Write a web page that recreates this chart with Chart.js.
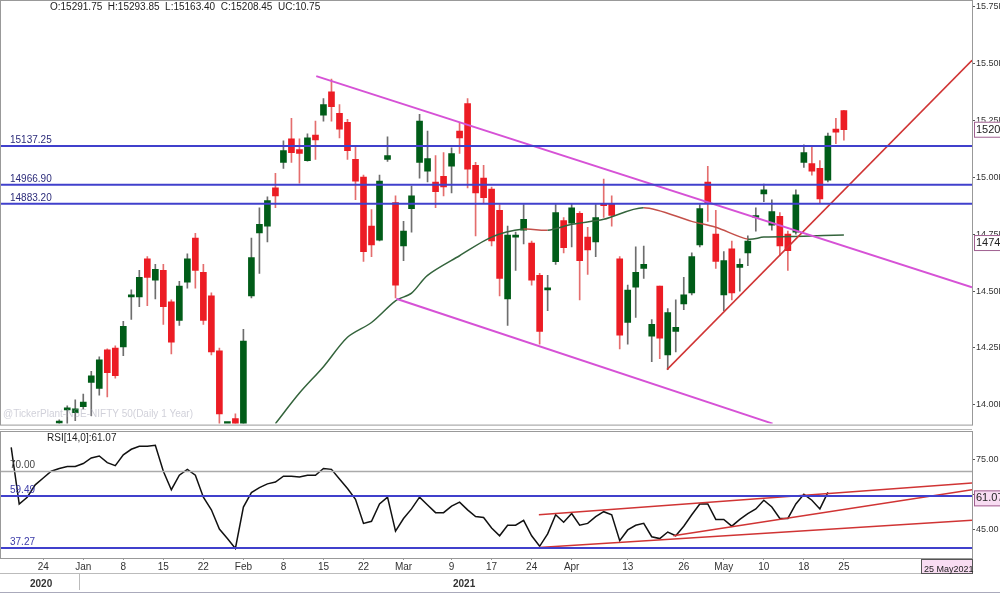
<!DOCTYPE html>
<html>
<head>
<meta charset="utf-8">
<script src="https://cdn.jsdelivr.net/npm/chart.js@4.4.1/dist/chart.umd.min.js"></script>
<style>
  body { margin: 0; background: #fff; overflow: hidden; }
  #wrap { position: relative; width: 1000px; height: 600px; }
  canvas { position: absolute; left: 0; }
  #main { top: 0; }
  #rsi { top: 430px; }
</style>
</head>
<body>
<div id="wrap">
  <canvas id="main" width="1000" height="430"></canvas>
  <canvas id="rsi" width="1000" height="170"></canvas>
</div>
<script>
// ---- data (x = trading-day index, first candle at FIRST_INDEX) ----
const FIRST_INDEX = 7;
const opens = [13920,13978,13966,13992,14099,14073,14242,14250,14255,14474,14474,14642,14548,14591,14453,14371,14539,14733,14582,14479,14237,13810,13940,13760,14479,14755,14785,14953,15065,15168,15121,15073,15185,15272,15375,15280,15241,15078,15000,14785,14724,15078,14888,14698,14862,15065,15026,14979,15004,15048,15203,15323,15052,14996,14948,14854,14466,14737,14767,14711,14569,14505,14629,14810,14798,14841,14737,14716,14884,14884,14642,14362,14517,14599,14302,14522,14220,14323,14444,14492,14703,14979,14750,14483,14685,14604,14668,14823,14927,14789,14828,14750,14759,15065,15060,15039,14987,15211,15292];
const highs = [13935,13996,14022,14048,14147,14211,14246,14259,14367,14505,14591,14651,14617,14617,14461,14543,14664,14754,14617,14492,14250,13898,13961,14332,14733,14866,14914,15017,15160,15259,15168,15190,15246,15345,15431,15319,15254,15138,15009,14858,15009,15177,14918,14806,14961,15276,15203,15095,15108,15129,15237,15345,15065,15052,14957,14880,14785,14759,14880,14720,14578,14569,14880,14823,14884,14849,14780,14880,14992,14918,14651,14526,14694,14698,14375,14522,14423,14461,14560,14668,14880,15048,14854,14673,14720,14642,14742,14866,14970,14901,14845,14763,14944,15142,15138,15073,15194,15259,15294];
const lows = [13910,13918,13931,13983,13953,14043,14035,14117,14216,14375,14431,14436,14466,14354,14224,14349,14513,14513,14354,14220,13880,13713,13600,13720,14470,14578,14716,14866,15039,15065,14974,15070,15078,15246,15246,15173,15078,14901,14630,14651,14720,15069,14470,14634,14759,14996,14979,14866,14918,14931,15104,14953,14742,14888,14698,14479,14349,14591,14707,14526,14267,14414,14617,14668,14694,14461,14573,14651,14823,14785,14246,14267,14384,14556,14190,14203,14155,14233,14418,14483,14694,14806,14599,14414,14461,14500,14612,14763,14892,14767,14655,14591,14750,15043,15009,14888,14979,15147,15163];
const closes = [13925,13982,13983,14013,14128,14198,14142,14128,14345,14483,14560,14560,14595,14431,14276,14522,14642,14591,14371,14233,13961,13817,13700,14280,14647,14793,14897,14918,15117,15108,15104,15173,15164,15319,15310,15211,15117,14983,14673,14703,14983,15095,14526,14763,14918,15246,15082,14936,14957,15104,15173,15035,14931,14910,14720,14556,14746,14741,14815,14548,14323,14509,14845,14690,14866,14634,14681,14823,14875,14832,14306,14504,14582,14617,14354,14293,14405,14341,14483,14651,14862,14888,14630,14634,14492,14617,14720,14825,14944,14849,14698,14677,14923,15108,15026,14905,15181,15198,15208.45];
const ohlcText = "O:15291.75  H:15293.85  L:15163.40  C:15208.45  UC:10.75";

// moving average, read at a few points
const maIdx = [34,37,40,43,46,49,51,53,57,61,65,68,71,75,80,86,89,93,95,100,105];
const maVal = [13918,14052,14168,14297,14362,14457,14491,14569,14655,14737,14772,14767,14793,14815,14866,14806,14780,14728,14737,14741,14746];

// RSI(14) from index 1
const RSI_FIRST = 1;
const rsiVals = [80.3,56.1,59.0,64.3,67.2,70.1,71.3,72.1,72.1,73.4,75.8,76.6,73.8,72.5,77.1,79.5,80.8,80.8,81.2,70.1,62.2,68.4,70.9,68.4,59.0,53.6,45.4,41.3,37.1,54.8,61.0,63.1,64.7,65.5,68.0,68.0,67.6,68.4,68.4,71.3,70.9,66.8,62.7,58.1,47.8,48.7,56.1,59.0,44.5,49.9,54.0,59.0,55.7,52.4,52.4,55.2,56.9,53.6,50.7,50.3,45.8,42.5,47.0,47.0,49.1,42.5,38.0,43.3,51.5,48.3,52.0,47.0,47.8,50.7,52.8,51.5,40.4,45.0,47.0,47.8,42.1,41.3,44.1,42.5,46.6,51.5,56.1,56.1,49.5,49.5,46.6,49.5,52.0,54.0,57.7,54.8,49.9,49.9,56.1,60.2,57.7,54.0,61.07];

const levels = [15137.25, 14966.90, 14883.20];
const upperChannel = [[39.1, 15444], [121, 14517]];
const lowerChannel = [[49.1, 14466], [96.1, 13918]];
const supportLine = [[82.9, 14155], [121, 15513]];
const priceTicks = [14000, 14250, 14500, 14750, 15000, 15250, 15500, 15750];

const rsiLevels = [70, 59.49, 37.27];
const rsiLines = [
    [[66.9, 51.5], [121, 65.1]],
    [[66.9, 37.5], [121, 49.1]],
    [[83.7, 42.5], [121, 62.2]]
];
const rsiTicks = [45, 60, 75];

const dateTickIdx = [5,10,15,20,25,30,35,40,45,50,56,61,66,71,78,85,90,95,100,105];
const dateTickLbl = ["24","Jan","8","15","22","Feb","8","15","22","Mar","9","17","24","Apr","13","26","May","10","18","25"];

const X_MIN = -0.4, X_MAX = 121;
const UP = "rgb(0,92,24)", DOWN = "rgb(236,28,36)";
const BLUE = "rgb(64,64,204)", MAGENTA = "rgb(214,82,214)", TREND = "rgb(208,52,52)";
const FONT = "Liberation Sans";

const candles = opens.map((o, k) => ({ i: FIRST_INDEX + k, o, h: highs[k], l: lows[k], c: closes[k] }));
const pts = arr => arr.map(p => ({ x: p[0], y: p[1] }));
const hline = v => [{ x: X_MIN, y: v }, { x: X_MAX, y: v }];

function lineDs(data, color, width) {
    return { type: "line", data, borderColor: color, borderWidth: width, pointRadius: 0, order: 0, tension: 0 };
}

function fixWidth(w) { return s => { s.width = w; }; }

function badge(ctx, text, y, bg) {
    ctx.font = "11px " + FONT;
    ctx.fillStyle = bg;
    ctx.fillRect(974, y - 8, 26, 16);
    ctx.strokeStyle = "#a06090";
    ctx.strokeRect(974.5, y - 7.5, 30, 15);
    ctx.fillStyle = "#222";
    ctx.textAlign = "left";
    ctx.textBaseline = "middle";
    ctx.fillText(text, 976, y);
}

const mainDecor = {
    id: "mainDecor",
    afterDraw(chart) {
        const { ctx, chartArea: a, scales: { y } } = chart;
        ctx.save();
        ctx.strokeStyle = "#999";
        ctx.lineWidth = 1;
        ctx.strokeRect(0.5, 0.5, a.right, a.bottom + 1);
        ctx.strokeStyle = "#bbb";
        ctx.beginPath(); ctx.moveTo(0, 429.5); ctx.lineTo(a.right, 429.5); ctx.stroke();
        ctx.font = "10px " + FONT;
        ctx.textAlign = "left";
        ctx.textBaseline = "alphabetic";
        ctx.fillStyle = "#2c2c7a";
        levels.forEach(v => ctx.fillText(v.toFixed(2), 10, y.getPixelForValue(v) - 3));
        const last = candles[candles.length - 1];
        ctx.fillStyle = "#222";
        ctx.fillText(ohlcText, 50, 10);
        ctx.fillStyle = "rgba(150,150,170,0.45)";
        ctx.fillText("@TickerPlant-NSE-NIFTY 50(Daily 1 Year)", 3, 417);
        badge(ctx, "15208.", y.getPixelForValue(last.c), "#fff");
        badge(ctx, "14746.", y.getPixelForValue(maVal[maVal.length - 1]) + 8, "#fff");
        ctx.restore();
    }
};

new Chart(document.getElementById("main"), {
    type: "bar",
    data: {
        datasets: [
            lineDs(hline(levels[0]), BLUE, 2),
            lineDs(hline(levels[1]), BLUE, 2),
            lineDs(hline(levels[2]), BLUE, 2),
            lineDs(pts(upperChannel), MAGENTA, 2),
            lineDs(pts(lowerChannel), MAGENTA, 2),
            lineDs(pts(supportLine), TREND, 1.5),
            {
                type: "line",
                data: maIdx.map((x, k) => ({ x, y: maVal[k] })),
                borderWidth: 1.5,
                pointRadius: 0,
                tension: 0.3,
                order: 0,
                borderColor: "rgb(52,100,60)",
                segment: { borderColor: c => c.p1.parsed.y >= c.p0.parsed.y ? "rgb(52,100,60)" : "rgb(196,80,74)" }
            },
            {
                data: candles.map(d => ({ x: d.i, y: [Math.min(d.o, d.c), Math.max(d.o, d.c)] })),
                backgroundColor: candles.map(d => d.c >= d.o ? UP : DOWN),
                barThickness: 6, minBarLength: 2, grouped: false, order: 1
            },
            {
                data: candles.map(d => ({ x: d.i, y: [d.l, d.h] })),
                backgroundColor: candles.map(d => d.c >= d.o ? "rgb(110,110,110)" : "rgb(228,110,110)"),
                barThickness: 1, grouped: false, order: 2
            }
        ]
    },
    options: {
        responsive: false,
        animation: false,
        layout: { padding: { top: 3, left: 0, right: 0, bottom: 0 } },
        plugins: { legend: { display: false }, tooltip: { enabled: false } },
        scales: {
            x: { type: "linear", min: X_MIN, max: X_MAX, offset: false, display: false },
            y: {
                position: "right", min: 13918, max: 15750,
                afterBuildTicks: s => { s.ticks = priceTicks.map(value => ({ value })); },
                afterFit: fixWidth(28),
                grid: { drawOnChartArea: false, tickLength: 3, color: "#555" },
                border: { color: "#999" },
                ticks: { padding: 1, color: "#333", font: { family: FONT, size: 9 }, callback: v => (v / 1000).toFixed(2) + "K" }
            }
        }
    },
    plugins: [mainDecor]
});

const rsiDecor = {
    id: "rsiDecor",
    afterDraw(chart) {
        const { ctx, chartArea: a, scales: { y } } = chart;
        ctx.save();
        ctx.strokeStyle = "#999";
        ctx.strokeRect(0.5, 1.5, a.right, a.bottom - 1);
        ctx.font = "10px " + FONT;
        ctx.textAlign = "left";
        ctx.textBaseline = "alphabetic";
        ctx.fillStyle = "#222";
        ctx.fillText("RSI[14,0]:" + rsiVals[rsiVals.length - 1].toFixed(2), 47, 11);
        ctx.fillStyle = "#444";
        ctx.fillText(rsiLevels[0].toFixed(2), 10, y.getPixelForValue(rsiLevels[0]) - 3);
        ctx.fillStyle = "#3a3aa8";
        ctx.fillText(rsiLevels[1].toFixed(2), 10, y.getPixelForValue(rsiLevels[1]) - 3);
        ctx.fillText(rsiLevels[2].toFixed(2), 10, y.getPixelForValue(rsiLevels[2]) - 3);
        badge(ctx, rsiVals[rsiVals.length - 1].toFixed(2), y.getPixelForValue(rsiVals[rsiVals.length - 1]) + 6, "#f8dcf2");
        // bottom rows
        ctx.strokeStyle = "#bbb";
        ctx.beginPath(); ctx.moveTo(0, 143.5); ctx.lineTo(a.right, 143.5); ctx.stroke();
        ctx.beginPath(); ctx.moveTo(79.5, 143); ctx.lineTo(79.5, 160); ctx.stroke();
        ctx.font = "bold 10px " + FONT;
        ctx.fillStyle = "#333";
        ctx.fillText("2020", 30, 154);
        ctx.fillText("2021", 453, 154);
        ctx.fillStyle = "#f8dcf2";
        ctx.fillRect(921, 129, 51, 14);
        ctx.strokeStyle = "#555";
        ctx.strokeRect(921.5, 129.5, 51, 14);
        ctx.fillStyle = "#222";
        ctx.font = "9px " + FONT;
        ctx.fillText("25 May2021", 924, 140);
        ctx.strokeStyle = "#aab";
        ctx.beginPath(); ctx.moveTo(0, 162.5); ctx.lineTo(1000, 162.5); ctx.stroke();
        ctx.restore();
    }
};

new Chart(document.getElementById("rsi"), {
    type: "line",
    data: {
        datasets: [
            lineDs(hline(rsiLevels[0]), "#aaa", 1.5),
            lineDs(hline(rsiLevels[1]), BLUE, 2),
            lineDs(hline(rsiLevels[2]), BLUE, 2),
            ...rsiLines.map(l => lineDs(pts(l), TREND, 1.5)),
            lineDs(rsiVals.map((v, k) => ({ x: RSI_FIRST + k, y: v })), "#111", 1.5)
        ]
    },
    options: {
        responsive: false,
        animation: false,
        layout: { padding: { top: 2, left: 0, right: 0, bottom: 0 } },
        plugins: { legend: { display: false }, tooltip: { enabled: false } },
        scales: {
            x: {
                type: "linear", min: X_MIN, max: X_MAX,
                afterBuildTicks: s => { s.ticks = dateTickIdx.map(value => ({ value })); },
                afterFit: s => { s.height = 42; },
                grid: { drawOnChartArea: false, tickLength: 2, color: "#999" },
                border: { color: "#999" },
                ticks: {
                    padding: 1, autoSkip: false, maxRotation: 0, color: "#333",
                    font: { family: FONT, size: 10 },
                    callback: v => dateTickLbl[dateTickIdx.indexOf(v)]
                }
            },
            y: {
                position: "right", min: 33, max: 85,
                afterBuildTicks: s => { s.ticks = rsiTicks.map(value => ({ value })); },
                afterFit: fixWidth(28),
                grid: { drawOnChartArea: false, tickLength: 3, color: "#555" },
                border: { color: "#999" },
                ticks: { padding: 1, color: "#333", font: { family: FONT, size: 9 }, callback: v => v.toFixed(2) }
            }
        }
    },
    plugins: [rsiDecor]
});
</script>
</body>
</html>
